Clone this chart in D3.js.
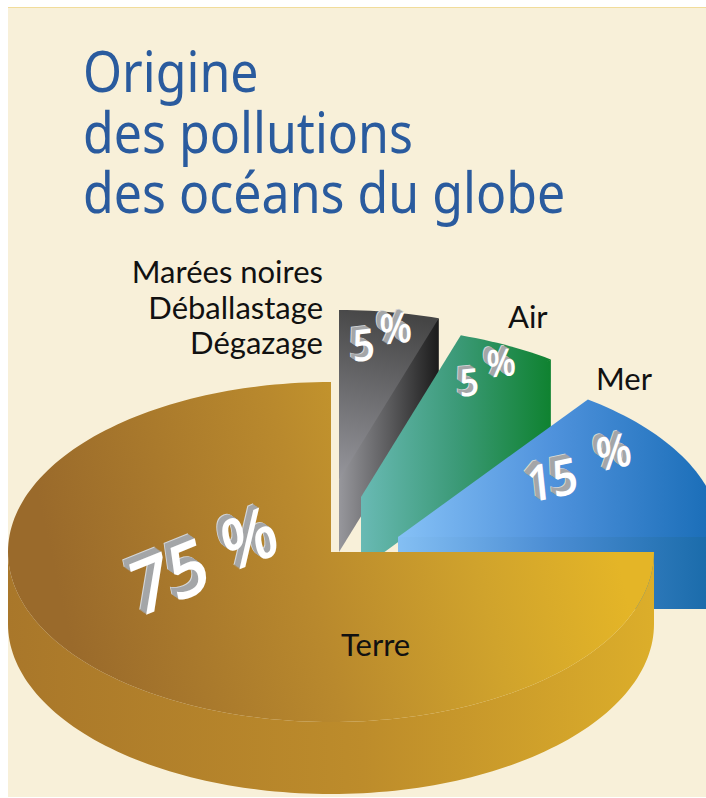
<!DOCTYPE html>
<html>
<head>
<meta charset="utf-8">
<script src="https://cdn.jsdelivr.net/npm/d3@7"></script>
<style>
html,body{margin:0;padding:0;background:#fff;}
svg{display:block;}
</style>
</head>
<body>
<div id="chart"></div>
<script>
// data, clockwise from 12 o'clock
var categories=["Marées noires / Déballastage / Dégazage","Air","Mer","Terre"];
var shares=[5,5,15,75];
var titleLines=["Origine","des pollutions","des océans du globe"];
var sliceLabels=["Air","Mer","Terre"];
var blackLabels=["Marées noires","Déballastage","Dégazage"];

var W=706,H=798;
var RX=323,RY=170,DEPTH=72;
var CX=331,CY=552;
// how far each slice is pulled out of the pie
var pull=[[8,-72],[30,-55],[67,-15],[0,0]];

var svg=d3.select("#chart").append("svg").attr("width",W).attr("height",H);
var defs=svg.append("defs");

function grad(id,x1,y1,x2,y2,stops){
    var g=defs.append("linearGradient").attr("id",id).attr("gradientUnits","userSpaceOnUse")
        .attr("x1",x1).attr("y1",y1).attr("x2",x2).attr("y2",y2);
    stops.forEach(function(s){g.append("stop").attr("offset",s[0]).attr("stop-color",s[1]);});
}
grad("topBlack",339,480,380,310,[[0,"#96969c"],[1,"#454545"]]);
grad("wallBlack",339,0,438,0,[[0,"#97979c"],[.5,"#5c5c5e"],[1,"#1c1c1c"]]);
grad("topAir",361,0,551,0,[[0,"#69bab4"],[.5,"#3c9a78"],[1,"#0f8230"]]);
grad("topMer",398,0,706,0,[[0,"#86c1f6"],[.5,"#4f92dc"],[1,"#1c6fb9"]]);
grad("wallMer",398,0,706,0,[[0,"#84bff3"],[.5,"#4b8dd3"],[1,"#1b6cab"]]);
grad("topTerre",70,640,610,520,[[0,"#9a6a2b"],[.45,"#b9892d"],[.75,"#d0a32c"],[1,"#e4b527"]]);
grad("wallTerre",8,0,655,0,[[0,"#a9772a"],[.55,"#bd8c2b"],[1,"#dcae2a"]]);

var fills=[["topBlack","wallBlack"],["topAir","topAir"],["topMer","wallMer"],["topTerre","wallTerre"]];

// paper
svg.append("rect").attr("x",8).attr("y",7).attr("width",W-8).attr("height",H-8).attr("fill","#f8f0d9");
svg.append("line").attr("x1",8).attr("x2",W).attr("y1",7.5).attr("y2",7.5).attr("stroke","#f1dc9b");

var pie=d3.pie().sort(null).value(function(d){return d;});
var arcs=pie(shares);
var line=d3.line();

function rimPoint(a,cx,cy){return [cx+RX*Math.sin(a),cy-RY*Math.cos(a)];}
function rimPoints(a0,a1,cx,cy){
    var n=Math.max(8,Math.ceil((a1-a0)*40));
    return d3.range(n+1).map(function(i){return rimPoint(a0+(a1-a0)*i/n,cx,cy);});
}

arcs.forEach(function(d,i){
    var cx=CX+pull[i][0],cy=CY+pull[i][1];
    var a0=d.startAngle,a1=d.endAngle;
    var g=svg.append("g").attr("class","slice");
    var wall="url(#"+fills[i][1]+")",top="url(#"+fills[i][0]+")";
    if(i<3){
        // the radial wall on the right of a pulled slice; m sits inside the top face
        // so the wall runs under it and no seam shows
        var p=rimPoint(a1,cx,cy),r=rimPoint((a0+a1)/2,cx,cy);
        var m=[(cx+r[0])/2,(cy+r[1])/2];
        g.append("path").attr("fill",wall).attr("d",line([[cx,cy],m,p,[p[0],p[1]+DEPTH],[cx,cy+DEPTH]])+"Z");
    }else{
        // front rim of the big slice, only the half facing us
        var pts=rimPoints(a0,Math.PI*1.5,cx,cy);
        var low=pts.map(function(q){return [q[0],q[1]+DEPTH];}).reverse();
        g.append("path").attr("fill",wall).attr("d",line(pts.concat(low))+"Z");
    }
    g.append("path").attr("fill",top).attr("d",line([[cx,cy]].concat(rimPoints(a0,a1,cx,cy)))+"Z");
});

// title
svg.append("g").selectAll("text").data(titleLines).enter().append("text")
    .attr("transform",function(d,i){return "translate(83,"+(92+i*60.5)+") scale(.894,1)";})
    .attr("fill","#2a5b9e").style("font-family","'Noto Sans'").style("font-size","56px")
    .text(function(d){return d;});

// black labels
var labelFont="Lato";
svg.append("g").selectAll("text").data(blackLabels).enter().append("text")
    .attr("x",323).attr("y",function(d,i){return 283+i*35.5;}).attr("text-anchor","end")
    .attr("fill","#111").style("font-family",labelFont).style("font-size","31px")
    .text(function(d){return d;});
var labelX=[508,596,341],labelY=[328,390,656];
svg.append("g").selectAll("text").data(sliceLabels).enter().append("text")
    .attr("x",function(d,i){return labelX[i];}).attr("y",function(d,i){return labelY[i];})
    .attr("fill","#111").style("font-family",labelFont).style("font-size","31px")
    .text(function(d){return d;});

// extruded numbers: grey copies stacked behind a white face
function label3d(str,x,y,size,rot,skew,depth,sx){
    var g=svg.append("g").style("font-family","'Open Sans'").style("font-weight","600").style("font-size",size+"px");
    d3.range(depth,-1,-1).forEach(function(k){
        g.append("text")
            .attr("transform","translate("+(x-k*1)+","+(y-k*.7)+") rotate("+rot+") skewX("+skew+") scale("+sx+",1)")
            .attr("fill",k===0?"#fff":(k===depth?"#d4d6d8":"#a4a6a8")).text(str);
    });
}
var pctMark="%";
label3d(shares[3],138,618,74,-22,-10,7,.95);
label3d(pctMark,228,574,70,-22,-10,6,.95);
label3d(shares[2],529,503,50,-12,-6,6,.9);
label3d(pctMark,598,472,46,-12,-6,5,.9);
label3d(shares[0],353,362,44,-6,-4,5,.9);
label3d(pctMark,380,345,42,-6,-4,5,.9);
label3d(shares[1],460,397,38,-6,-4,5,.9);
label3d(pctMark,487,378,38,-6,-4,5,.9);
</script>
</body>
</html>
